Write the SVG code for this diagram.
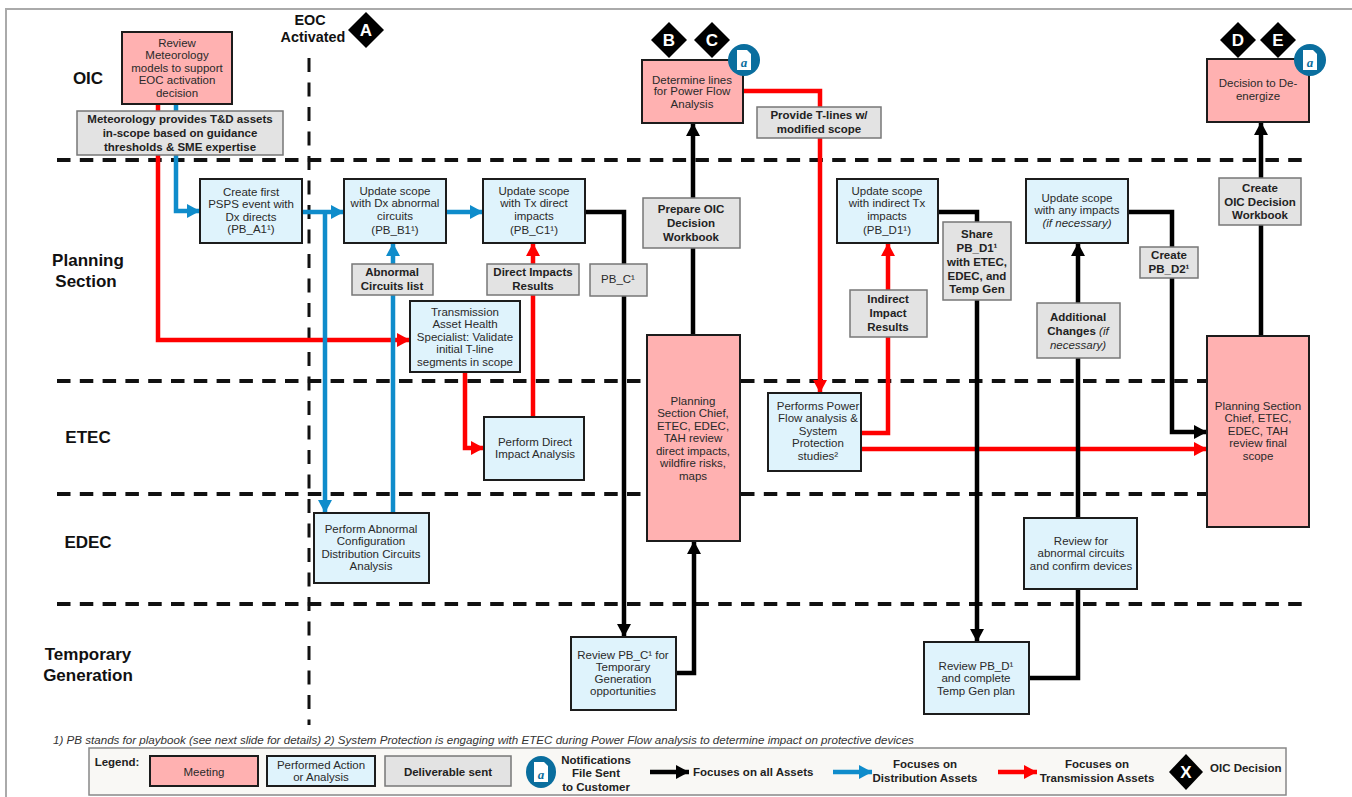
<svg xmlns="http://www.w3.org/2000/svg" width="1352" height="797" viewBox="0 0 1352 797">
<style>
text{font-family:"Liberation Sans",Arial,sans-serif;text-anchor:middle;font-size:11.5px;fill:#2a2a2a}
.box{stroke:#1c1c1c;stroke-width:2}
.m{fill:#ffb1b1}.a{fill:#dff3fc}
.d{fill:#e3e3e3;stroke:#777;stroke-width:1.5}
.dt{font-weight:bold;fill:#222}
.lane{font-size:17px;font-weight:bold;fill:#111}
.eoc{font-size:14.4px;font-weight:bold;fill:#111}
.dash{stroke:#111;stroke-width:4;stroke-dasharray:13.5 9.3;fill:none}
.dashv{stroke:#111;stroke-width:3;stroke-dasharray:14 10.5;fill:none}
.k,.b,.r{fill:none;stroke-width:4.5}
.k{stroke:#000;marker-end:url(#ak)}.b{stroke:#0f8ccb;marker-end:url(#ab)}.r{stroke:#f00;marker-end:url(#ar)}
.dm{fill:#000}.dl{fill:#fff;font-weight:bold;font-size:17px}
.nc{fill:#0a6e9e}.nd{fill:#fff}.na{fill:#0a6e9e;font-family:"Liberation Serif",serif;font-style:italic;font-weight:bold;font-size:13px}
.lg{font-weight:bold;font-size:11.5px;fill:#222}
.foot{text-anchor:start;font-style:italic;font-size:11.6px;fill:#333}
.st{text-anchor:start}
</style>
<defs>
<marker id="ak" markerUnits="userSpaceOnUse" markerWidth="13" markerHeight="14" viewBox="0 0 13 14" refX="13" refY="7" orient="auto"><path d="M0 0L13 7L0 14z" fill="#000"/></marker>
<marker id="ab" markerUnits="userSpaceOnUse" markerWidth="13" markerHeight="14" viewBox="0 0 13 14" refX="13" refY="7" orient="auto"><path d="M0 0L13 7L0 14z" fill="#0f8ccb"/></marker>
<marker id="ar" markerUnits="userSpaceOnUse" markerWidth="13" markerHeight="14" viewBox="0 0 13 14" refX="13" refY="7" orient="auto"><path d="M0 0L13 7L0 14z" fill="#f00"/></marker>
</defs>
<rect width="1352" height="797" fill="#fff"/>
<path d="M6 797V9H1352" fill="none" stroke="#aaa" stroke-width="2"/>

<g id="lanes">
<path class="dash" d="M57 160H1310M57 381H1207M57 494H1207M57 604H1310"/>
<path class="dashv" d="M309 58V725"/>
<text class="lane" x="88" y="84">OIC</text>
<text class="lane" x="88" y="266">Planning</text>
<text class="lane" x="86" y="287">Section</text>
<text class="lane" x="88" y="443">ETEC</text>
<text class="lane" x="88" y="548">EDEC</text>
<text class="lane" x="88" y="660">Temporary</text>
<text class="lane" x="88" y="681">Generation</text>
<text class="eoc" x="310" y="25">EOC</text>
<text class="eoc" x="313" y="42">Activated</text>
</g>

<g id="connectors">
<path class="r" d="M158 104V340H410"/>
<path class="b" d="M176 104V211H200"/>
<path class="b" d="M302 212H344"/>
<path class="b" d="M325 212V513"/>
<path class="b" d="M393 513V243"/>
<path class="b" d="M446 212H483"/>
<path class="r" d="M533 417V243"/>
<path class="r" d="M465 372V448H484"/>
<path class="k" d="M585 212H624V637"/>
<path class="k" d="M676 673H694V541"/>
<path class="k" d="M693 335V123"/>
<path class="r" d="M743 91H820V393"/>
<path class="r" d="M861 433H888V243"/>
<path class="r" d="M861 449H1207"/>
<path class="k" d="M938 212H977V642"/>
<path class="k" d="M1029 678H1078V243"/>
<path class="k" d="M1128 212H1172V432H1207"/>
<path class="k" d="M1261 336V122"/>
</g>

<g id="n-review"><rect class="box m" x="122" y="32" width="110" height="72"/><text x="177" y="47">Review</text><text x="177" y="59">Meteorology</text><text x="177" y="72">models to support</text><text x="177" y="84">EOC activation</text><text x="177" y="97">decision</text></g>
<g id="n-met"><rect class="d" x="77" y="111" width="206" height="44"/><text class="dt" x="180" y="123">Meteorology provides T&amp;D assets</text><text class="dt" x="180" y="137">in-scope based on guidance</text><text class="dt" x="180" y="151">thresholds &amp; SME expertise</text></g>
<g id="n-a1"><rect class="box a" x="200" y="179" width="102" height="64"/><text x="251" y="196">Create first</text><text x="251" y="208">PSPS event with</text><text x="251" y="221">Dx directs</text><text x="251" y="233">(PB_A1¹)</text></g>
<g id="n-b1"><rect class="box a" x="344" y="179" width="102" height="64"/><text x="395" y="195">Update scope</text><text x="395" y="207">with Dx abnormal</text><text x="395" y="220">circuits</text><text x="395" y="234">(PB_B1¹)</text></g>
<g id="n-c1"><rect class="box a" x="483" y="179" width="102" height="64"/><text x="534" y="195">Update scope</text><text x="534" y="207">with Tx direct</text><text x="534" y="220">impacts</text><text x="534" y="234">(PB_C1¹)</text></g>
<g id="n-abn"><rect class="d" x="352" y="264" width="81" height="31"/><text class="dt" x="392" y="276">Abnormal</text><text class="dt" x="392" y="290">Circuits list</text></g>
<g id="n-dir"><rect class="d" x="487" y="264" width="92" height="31"/><text class="dt" x="533" y="276">Direct Impacts</text><text class="dt" x="533" y="290">Results</text></g>
<g id="n-pbc"><rect class="d" x="590" y="264" width="57" height="32"/><text x="618" y="283">PB_C¹</text></g>
<g id="n-tah"><rect class="box a" x="410" y="301" width="110" height="71"/><text x="465" y="316">Transmission</text><text x="465" y="328">Asset Health</text><text x="465" y="341">Specialist: Validate</text><text x="465" y="353">initial T-line</text><text x="465" y="366">segments in scope</text></g>
<g id="n-pdi"><rect class="box a" x="484" y="417" width="100" height="63"/><text x="535" y="446">Perform Direct</text><text x="535" y="458">Impact Analysis</text></g>
<g id="n-pac"><rect class="box a" x="314" y="513" width="115" height="70"/><text x="371" y="533">Perform Abnormal</text><text x="371" y="545">Configuration</text><text x="371" y="558">Distribution Circuits</text><text x="371" y="570">Analysis</text></g>
<g id="n-det"><rect class="box m" x="642" y="60" width="101" height="63"/><text x="692" y="84">Determine lines</text><text x="692" y="95">for Power Flow</text><text x="692" y="108">Analysis</text></g>
<g id="n-prep"><rect class="d" x="643" y="198" width="97" height="50"/><text class="dt" x="691" y="213">Prepare OIC</text><text class="dt" x="691" y="227">Decision</text><text class="dt" x="691" y="241">Workbook</text></g>
<g id="n-chief"><rect class="box m" x="647" y="335" width="93" height="206"/><text x="693" y="405">Planning</text><text x="693" y="417">Section Chief,</text><text x="693" y="430">ETEC, EDEC,</text><text x="693" y="442">TAH review</text><text x="693" y="455">direct impacts,</text><text x="693" y="467">wildfire risks,</text><text x="693" y="480">maps</text></g>
<g id="n-rpc"><rect class="box a" x="571" y="637" width="105" height="73"/><text x="623" y="659">Review PB_C¹ for</text><text x="623" y="671">Temporary</text><text x="623" y="683">Generation</text><text x="623" y="695">opportunities</text></g>
<g id="n-prov"><rect class="d" x="757" y="107" width="124" height="31"/><text class="dt" x="819" y="119">Provide T-lines w/</text><text class="dt" x="819" y="133">modified scope</text></g>
<g id="n-d1"><rect class="box a" x="837" y="179" width="101" height="64"/><text x="887" y="195">Update scope</text><text x="887" y="207">with indirect Tx</text><text x="887" y="220">impacts</text><text x="887" y="234">(PB_D1¹)</text></g>
<g id="n-ind"><rect class="d" x="850" y="290" width="77" height="47"/><text class="dt" x="888" y="303">Indirect</text><text class="dt" x="888" y="317">Impact</text><text class="dt" x="888" y="331">Results</text></g>
<g id="n-pf"><rect class="box a" x="768" y="393" width="93" height="78"/><text x="818" y="410">Performs Power</text><text x="818" y="422">Flow analysis &amp;</text><text x="818" y="435">System</text><text x="818" y="447">Protection</text><text x="818" y="460">studies²</text></g>
<g id="n-share"><rect class="d" x="943" y="222" width="68" height="78"/><text class="dt" x="977" y="238">Share</text><text class="dt" x="977" y="252">PB_D1¹</text><text class="dt" x="977" y="266">with ETEC,</text><text class="dt" x="977" y="280">EDEC, and</text><text class="dt" x="977" y="293">Temp Gen</text></g>
<g id="n-any"><rect class="box a" x="1026" y="179" width="102" height="64"/><text x="1077" y="202">Update scope</text><text x="1077" y="214">with any impacts</text><text x="1077" y="227" font-style="italic">(if necessary)</text></g>
<g id="n-d2"><rect class="d" x="1140" y="247" width="58" height="31"/><text class="dt" x="1169" y="259">Create</text><text class="dt" x="1169" y="273">PB_D2¹</text></g>
<g id="n-add"><rect class="d" x="1037" y="303" width="83" height="55"/><text class="dt" x="1078" y="321">Additional</text><text class="dt" x="1078" y="335">Changes <tspan font-style="italic" font-weight="normal">(if</tspan></text><text x="1078" y="349" font-style="italic">necessary)</text></g>
<g id="n-rfa"><rect class="box a" x="1024" y="518" width="113" height="71"/><text x="1081" y="545">Review for</text><text x="1081" y="557">abnormal circuits</text><text x="1081" y="570">and confirm devices</text></g>
<g id="n-rpd"><rect class="box a" x="924" y="642" width="105" height="72"/><text x="976" y="670">Review PB_D¹</text><text x="976" y="682">and complete</text><text x="976" y="695">Temp Gen plan</text></g>
<g id="n-dec"><rect class="box m" x="1207" y="59" width="102" height="63"/><text x="1258" y="87">Decision to De-</text><text x="1258" y="100">energize</text></g>
<g id="n-coic"><rect class="d" x="1219" y="178" width="82" height="47"/><text class="dt" x="1260" y="192">Create</text><text class="dt" x="1260" y="206">OIC Decision</text><text class="dt" x="1260" y="219">Workbook</text></g>
<g id="n-final"><rect class="box m" x="1207" y="336" width="102" height="191"/><text x="1258" y="410">Planning Section</text><text x="1258" y="422">Chief, ETEC,</text><text x="1258" y="435">EDEC, TAH</text><text x="1258" y="447">review final</text><text x="1258" y="460">scope</text></g>

<g id="dec-a"><path class="dm" d="M366 12L384 30L366 48L348 30z"/><text class="dl" x="366" y="36">A</text></g>
<g id="dec-b"><path class="dm" d="M669 22L687 40L669 58L651 40z"/><text class="dl" x="669" y="46">B</text></g>
<g id="dec-c"><path class="dm" d="M712 22L730 40L712 58L694 40z"/><text class="dl" x="712" y="46">C</text></g>
<g id="dec-d"><path class="dm" d="M1238 22L1256 40L1238 58L1220 40z"/><text class="dl" x="1238" y="46">D</text></g>
<g id="dec-e"><path class="dm" d="M1278 22L1296 40L1278 58L1260 40z"/><text class="dl" x="1278" y="46">E</text></g>
<g id="note-1"><circle class="nc" cx="744" cy="60" r="16"/><path class="nd" d="M737 50H747L751 54V70H737z"/><text class="na" x="744" y="67">a</text></g>
<g id="note-2"><circle class="nc" cx="1310" cy="60" r="16"/><path class="nd" d="M1303 50H1313L1317 54V70H1303z"/><text class="na" x="1310" y="67">a</text></g>

<text class="foot" x="53" y="744">1) PB stands for playbook (see next slide for details) 2) System Protection is engaging with ETEC during Power Flow analysis to determine impact on protective devices</text>

<g id="legend">
<rect x="89" y="748" width="1197" height="47" fill="#f9f8f5" stroke="#888" stroke-width="1.5"/>
<text class="lg" x="117" y="766">Legend:</text>
<rect class="box m" x="150" y="756" width="108" height="30"/><text x="204" y="776">Meeting</text>
<rect class="box a" x="267" y="756" width="108" height="30"/><text x="321" y="769">Performed Action</text><text x="321" y="781">or Analysis</text>
<rect class="d" x="385" y="756" width="126" height="30"/><text class="dt" x="448" y="776">Deliverable sent</text>
<ellipse class="nc" cx="541" cy="772" rx="15" ry="16"/><path class="nd" d="M534 762H544L548 766V782H534z"/><text class="na" x="541" y="779">a</text>
<text class="lg" x="596" y="764">Notifications</text><text class="lg" x="596" y="777">File Sent</text><text class="lg" x="596" y="791">to Customer</text>
<path class="k" d="M650 772H689"/><text class="lg st" x="693" y="776">Focuses on all Assets</text>
<path class="b" d="M833 772H872"/><text class="lg" x="925" y="768">Focuses on</text><text class="lg" x="925" y="782">Distribution Assets</text>
<path class="r" d="M998 772H1037"/><text class="lg" x="1097" y="768">Focuses on</text><text class="lg" x="1097" y="782">Transmission Assets</text>
<path class="dm" d="M1186 754L1203 772L1186 790L1169 772z"/><text class="dl" x="1186" y="778">X</text>
<text class="lg st" x="1210" y="772">OIC Decision</text>
</g>
</svg>
